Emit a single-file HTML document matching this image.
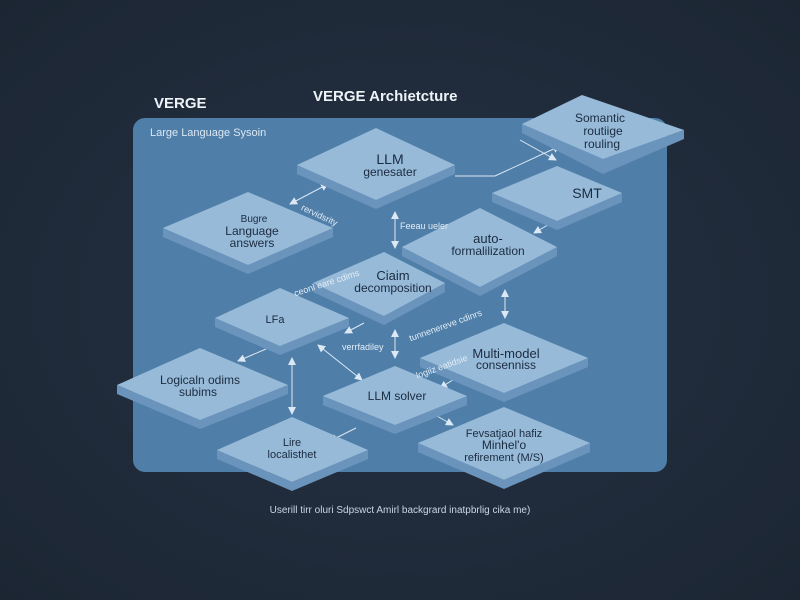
<!DOCTYPE html>
<html><head><meta charset="utf-8"><style>
html,body{margin:0;padding:0;background:#1f2a3a;}
svg{display:block}
text{font-family:"Liberation Sans",sans-serif;}
</style></head><body>
<svg width="800" height="600" viewBox="0 0 800 600" xmlns="http://www.w3.org/2000/svg">
<defs>
<marker id="a" markerWidth="8" markerHeight="8" refX="7" refY="4" orient="auto" markerUnits="userSpaceOnUse"><path d="M0,0 L8,4 L0,8 z" fill="#dce8f3"/></marker>
<marker id="b" markerWidth="8" markerHeight="8" refX="1" refY="4" orient="auto" markerUnits="userSpaceOnUse"><path d="M8,0 L0,4 L8,8 z" fill="#dce8f3"/></marker>
<radialGradient id="bg" cx="50%" cy="50%" r="70%"><stop offset="0" stop-color="#253245"/><stop offset="1" stop-color="#1c2633"/></radialGradient>
</defs>
<rect width="800" height="600" fill="url(#bg)"/>
<text x="154" y="108" font-size="15" font-weight="bold" fill="#eef3f8">VERGE</text>
<text x="313" y="101" font-size="15" font-weight="bold" fill="#eef3f8">VERGE Archietcture</text>
<rect x="133" y="118" width="534" height="354" rx="12" fill="#4f7fa9"/>
<text x="150" y="136" font-size="11" fill="#dbe7f2">Large Language Sysoin</text>
<g fill="none" stroke="#dce8f3" stroke-width="1">
<line x1="290" y1="204" x2="328" y2="184" marker-start="url(#b)" marker-end="url(#a)"/>
<line x1="395" y1="212" x2="395" y2="248" marker-start="url(#b)" marker-end="url(#a)"/>
<polyline points="455,176 495,176 560,146" marker-end="url(#a)"/>
<line x1="520" y1="140" x2="556" y2="160" marker-end="url(#a)"/>
<line x1="553" y1="222" x2="534" y2="233" marker-end="url(#a)"/>
<polyline points="436,272 450,267 454,272" marker-end="url(#a)"/>
<line x1="395" y1="330" x2="395" y2="358" marker-start="url(#b)" marker-end="url(#a)"/>
<line x1="505" y1="290" x2="505" y2="318" marker-start="url(#b)" marker-end="url(#a)"/>
<line x1="364" y1="323" x2="345" y2="333" marker-end="url(#a)"/>
<line x1="266" y1="349" x2="238" y2="361" marker-end="url(#a)"/>
<line x1="292" y1="358" x2="292" y2="414" marker-start="url(#b)" marker-end="url(#a)"/>
<line x1="318" y1="345" x2="362" y2="380" marker-start="url(#b)" marker-end="url(#a)"/>
<line x1="456" y1="378" x2="440" y2="388" marker-end="url(#a)"/>
<line x1="356" y1="428" x2="330" y2="441" marker-end="url(#a)"/>
<line x1="435" y1="415" x2="453" y2="425" marker-end="url(#a)"/>
</g>
<g stroke="none">
<g><polygon points="522,124 603,159 684,130 684,139 603,174 522,133" fill="#6a94bc"/><polygon points="582,95 684,130 603,159 522,124" fill="#97bad8"/></g>
<g><polygon points="297,165 376,200 455,165 455,174 376,209 297,174" fill="#6a94bc"/><polygon points="376,128 455,165 376,200 297,165" fill="#97bad8"/></g>
<g><polygon points="492,193 557,221 622,193 622,202 557,230 492,202" fill="#6a94bc"/><polygon points="557,166 622,193 557,221 492,193" fill="#97bad8"/></g>
<g><polygon points="163,228 248,265 333,228 333,237 248,274 163,237" fill="#6a94bc"/><polygon points="248,192 333,228 248,265 163,228" fill="#97bad8"/></g>
<g><polygon points="402,247 480,287 557,247 557,256 480,296 402,256" fill="#6a94bc"/><polygon points="480,208 557,247 480,287 402,247" fill="#97bad8"/></g>
<g><polygon points="313,283 384,316 445,283 445,292 384,325 313,292" fill="#6a94bc"/><polygon points="384,252 445,283 384,316 313,283" fill="#97bad8"/></g>
<g><polygon points="215,318 280,346 349,318 349,327 280,355 215,327" fill="#6a94bc"/><polygon points="280,288 349,318 280,346 215,318" fill="#97bad8"/></g>
<g><polygon points="117,385 200,420 288,385 288,394 200,429 117,394" fill="#6a94bc"/><polygon points="200,348 288,385 200,420 117,385" fill="#97bad8"/></g>
<g><polygon points="420,358 504,393 588,358 588,367 504,402 420,367" fill="#6a94bc"/><polygon points="504,323 588,358 504,393 420,358" fill="#97bad8"/></g>
<g><polygon points="323,396 395,425 467,396 467,405 395,434 323,405" fill="#6a94bc"/><polygon points="395,366 467,396 395,425 323,396" fill="#97bad8"/></g>
<g><polygon points="217,450 292,482 368,450 368,459 292,491 217,459" fill="#6a94bc"/><polygon points="292,417 368,450 292,482 217,450" fill="#97bad8"/></g>
<g><polygon points="418,443 504,480 590,443 590,452 504,489 418,452" fill="#6a94bc"/><polygon points="504,407 590,443 504,480 418,443" fill="#97bad8"/></g>
</g>
<g fill="#1b2b40" font-size="12" text-anchor="middle">
<text x="600" y="122">Somantic</text><text x="603" y="135">routiige</text><text x="602" y="148">rouling</text>
<text x="390" y="164" font-size="14">LLM</text><text x="390" y="176" font-size="12">genesater</text>
<text x="587" y="198" font-size="14">SMT</text>
<text x="254" y="222" font-size="10">Bugre</text><text x="252" y="235">Language</text><text x="252" y="247">answers</text>
<text x="488" y="243" font-size="13">auto-</text><text x="488" y="255" font-size="12">formalilization</text>
<text x="393" y="280" font-size="13">Ciaim</text><text x="393" y="292">decomposition</text>
<text x="275" y="323" font-size="11">LFa</text>
<text x="200" y="384">Logicaln odims</text><text x="198" y="396">subims</text>
<text x="506" y="358" font-size="13">Multi-model</text><text x="506" y="369">consenniss</text>
<text x="397" y="400">LLM  solver</text>
<text x="292" y="446" font-size="11">Lire</text><text x="292" y="458" font-size="11">localisthet</text>
<text x="504" y="437" font-size="11">Fevsatjaol hafiz</text><text x="504" y="449">Minhel'o</text><text x="504" y="461" font-size="11">refirement (M/S)</text>
</g>
<g fill="#e3edf6" font-size="9">
<text x="300" y="214" transform="rotate(25 310 213)">rervidsrity</text>
<text x="400" y="229">Feeau ueler</text>
<text x="292" y="288" transform="rotate(-18 320 282)">ceonl eare cdims</text>
<text x="405" y="330" transform="rotate(-20 440 320)">tunnenereve cdinrs</text>
<text x="342" y="350">verrfadiley</text>
<text x="412" y="368" transform="rotate(-20 445 358)">logiiz eatidsie</text>
</g>
<text x="400" y="513" font-size="10" fill="#c9d6e3" text-anchor="middle">Userill tirr oluri Sdpswct Amirl backgrard inatpbrlig cika me)</text>
</svg>
</body></html>
